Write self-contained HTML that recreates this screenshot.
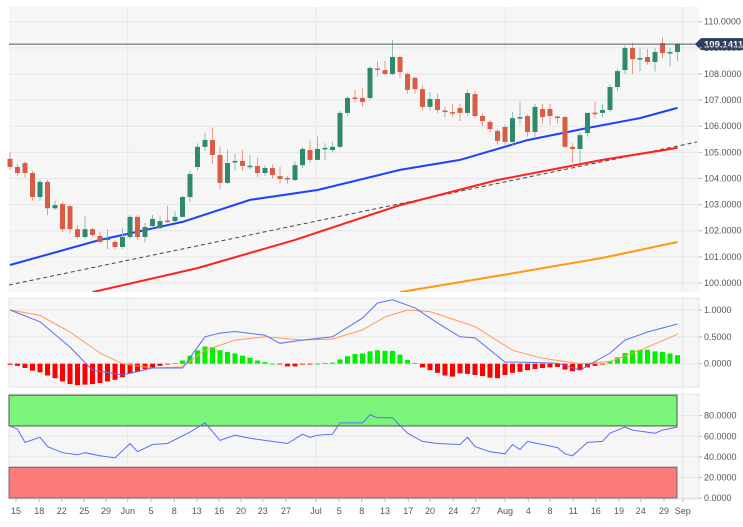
<!DOCTYPE html>
<html><head><meta charset="utf-8"><style>
body{margin:0;background:#fff;width:743px;height:527px;overflow:hidden;font-family:"Liberation Sans",sans-serif}
svg{display:block}
text{font-family:"Liberation Sans",sans-serif;font-size:9px;fill:#555}
</style></head><body>
<svg id="c" width="743" height="527">
<g id="bg"></g><g id="main"></g><g id="macd"></g><g id="rsi"></g><g id="axes"></g>
</svg>
<script>
const opens=[104.75,104.44,104.59,104.21,103.29,103.87,102.86,103.02,102.94,102.06,101.76,102.06,101.80,101.68,101.57,101.38,101.76,102.53,101.76,102.18,102.10,102.39,102.37,102.53,103.29,104.44,105.21,105.47,104.90,103.83,104.65,104.67,104.48,104.48,104.21,104.40,104.09,104.02,103.94,104.51,105.09,104.71,105.15,105.09,105.21,106.51,107.10,107.08,107.08,108.21,108.15,108.00,108.65,108.00,107.85,107.42,106.74,107.04,106.60,106.54,106.70,106.51,107.23,106.39,106.16,105.82,105.97,105.40,106.33,106.39,105.78,106.66,106.66,106.37,106.35,105.21,105.13,105.74,106.52,106.51,106.62,107.50,108.15,108.99,108.59,108.65,108.46,109.18,108.82,108.84];
const closes=[104.44,104.21,104.21,103.29,103.87,102.86,102.98,102.06,102.06,101.76,102.06,101.84,101.57,101.70,101.38,101.76,102.53,101.76,102.14,102.45,102.37,102.37,102.53,103.29,104.17,105.21,105.47,104.90,103.83,104.59,104.67,104.48,104.49,104.21,104.40,104.13,103.98,103.98,104.51,105.13,104.71,105.13,105.17,105.21,106.51,107.08,107.08,106.93,108.23,108.19,108.00,108.65,108.07,107.39,107.42,106.74,107.04,106.62,106.58,106.51,106.51,107.27,106.39,106.20,105.89,105.44,105.40,106.31,106.35,105.78,106.74,106.35,106.39,106.35,105.21,105.13,105.66,106.51,106.50,106.62,107.50,108.11,108.99,108.57,108.61,108.46,108.84,108.80,108.84,109.14];
const highs=[105.0,104.55,104.65,104.3,103.95,103.95,103.15,103.1,103.0,102.2,102.55,102.1,101.95,102.05,101.65,102.1,102.6,102.6,102.3,102.6,102.55,102.95,102.75,103.35,104.3,105.35,105.75,105.95,105.2,105.1,104.95,105.1,104.9,104.8,104.5,104.55,104.45,104.1,104.65,105.2,105.45,105.6,105.35,105.4,106.6,107.15,107.4,107.45,108.3,108.5,108.5,109.3,108.7,108.05,107.9,107.55,107.3,107.25,106.75,106.85,106.85,107.4,107.35,106.5,106.25,105.9,106.05,106.55,106.95,106.45,106.85,106.85,106.85,106.4,106.4,105.35,105.75,105.95,106.95,106.85,107.6,108.2,109.1,109.2,109.0,108.95,109.0,109.4,109.0,109.2];
const lows=[104.35,104.1,104.05,103.15,103.15,102.6,102.8,101.95,101.9,101.7,101.7,101.75,101.5,101.3,101.3,101.3,101.7,101.65,101.55,102.1,102.05,102.3,102.3,102.5,103.1,104.3,105.05,104.55,103.6,103.8,104.3,104.3,104.35,104.05,104.1,104.0,103.8,103.8,103.9,104.4,104.6,104.7,104.7,105.0,105.15,106.4,106.9,106.75,107.0,107.9,107.95,107.95,107.85,107.25,107.25,106.6,106.6,106.5,106.35,106.35,106.2,106.4,106.3,106.0,105.75,105.3,105.3,105.3,106.1,105.6,105.6,106.1,106.05,106.1,105.15,104.6,104.6,105.6,106.3,106.35,106.55,107.35,108.0,108.0,108.1,108.35,108.1,108.6,108.3,108.5];
const blueIdx=[0,12,23,32,41,52,60,69,77,84,89];
const blueVal=[100.69,101.65,102.34,103.18,103.56,104.33,104.71,105.47,105.93,106.31,106.70];
const redIdx=[11,25,38,52,65,79,89];
const redVal=[99.65,100.57,101.65,102.98,103.94,104.71,105.17];
const orgIdx=[52,65,79,89];
const orgVal=[99.65,100.27,100.96,101.57];
const hist=[-0.02,-0.04,-0.08,-0.13,-0.16,-0.22,-0.27,-0.33,-0.38,-0.40,-0.39,-0.38,-0.36,-0.33,-0.30,-0.25,-0.18,-0.15,-0.10,-0.07,-0.04,-0.01,0.01,0.06,0.15,0.25,0.32,0.31,0.25,0.22,0.19,0.15,0.11,0.06,0.03,0.0,-0.01,-0.05,-0.05,-0.01,-0.005,0.0,0.01,0.02,0.08,0.14,0.18,0.19,0.23,0.25,0.24,0.24,0.17,0.07,0.01,-0.07,-0.12,-0.17,-0.22,-0.24,-0.18,-0.19,-0.21,-0.23,-0.26,-0.27,-0.21,-0.17,-0.15,-0.12,-0.10,-0.08,-0.07,-0.06,-0.11,-0.14,-0.12,-0.07,-0.04,-0.01,0.05,0.12,0.20,0.25,0.26,0.26,0.23,0.22,0.19,0.16];
const macdIdx=[0,4,8,11,15,19,23,26,28,30,34,36,39,43,47,49,51,54,57,60,62,66,68,73,76,80,82,85,89];
const macdVal=[1.0,0.78,0.31,-0.12,-0.21,-0.08,-0.08,0.5,0.57,0.6,0.53,0.38,0.44,0.5,0.85,1.13,1.19,1.04,0.76,0.50,0.48,0.03,0.03,0.01,-0.12,0.2,0.44,0.59,0.74];
const sigIdx=[0,4,8,12,15,19,23,26,30,34,39,43,47,50,53,56,62,67,71,76,80,84,89];
const sigVal=[1.0,0.9,0.59,0.2,0,-0.08,-0.06,0.25,0.44,0.5,0.44,0.46,0.63,0.87,1.0,0.97,0.69,0.25,0.1,0,0.04,0.25,0.55];
const rsiIdx=[0,1,2,4,5,7,9,10,12,14,16,17,19,21,24,26,28,30,32,34,37,39,40,41,43,44,47,48,49,51,53,55,57,60,61,62,64,66,67,68,69,71,73,74,75,77,79,80,82,83,86,87,89];
const rsiVal=[70,67,54,59,50,44,42,44,41,39,53,45,52,53,64,73,56,61,58,56,53,62,59,61,62,73,73,81,78,78,63,55,53,52,59,50,45,43,52,47,55,52,49,43,41,54,55,63,69,66,63,66,69];
const priceTicks=[100,101,102,103,104,105,106,107,108,109,110];
const macdTicks=[0,0.5,1.0];
const rsiTicks=[0,20,40,60,80];
const dateLabels=["15","18","22","25","29","Jun","5","8","13","16","20","23","27","Jul","5","8","13","17","20","24","27","Aug","4","8","11","16","19","24","29","Sep"];
const dateIdx=[0.8,3.9,6.9,9.9,12.8,15.7,18.8,21.9,24.9,27.9,30.8,33.7,36.8,40.8,43.9,46.9,50,53.1,56,59.1,62.1,66,69.1,72,75.1,78.1,81.2,84.1,87.2,89.7];
const lastPrice=109.1411;

const NS="http://www.w3.org/2000/svg";
function mk(parent,tag,attrs){const e=document.createElementNS(NS,tag);for(const k in attrs)e.setAttribute(k,attrs[k]);document.getElementById(parent).appendChild(e);return e;}
const X=i=>10+7.5*i;
const YP=p=>21.7+(110-p)*26.13;
const YM=v=>363.7-53.7*v;
const YR=v=>498-1.029*v;

// panels
let e;
e=mk('bg','rect',{x:9,y:7,width:690,height:285,fill:'#f6f6f6'});


e=mk('bg','rect',{x:9,y:298,width:690,height:89,fill:'#f6f6f6',stroke:'#e4e4e8'});


e=mk('bg','rect',{x:9,y:394,width:690,height:105,fill:'#f6f6f6',stroke:'#e4e4e8'});


// gridlines
priceTicks.forEach(t=>{mk('bg','line',{x1:9,x2:699,y1:YP(t),y2:YP(t),stroke:'#e6e6e6'});});
macdTicks.forEach(t=>{mk('bg','line',{x1:9,x2:699,y1:YM(t),y2:YM(t),stroke:'#e6e6e6'});});
rsiTicks.forEach(t=>{mk('bg','line',{x1:9,x2:699,y1:YR(t),y2:YR(t),stroke:'#e6e6e6'});});
[15.7,40.8,66,89.7].forEach(i=>{mk('bg','line',{x1:X(i),x2:X(i),y1:7,y2:292,stroke:'#e8e8e8'});mk('bg','line',{x1:X(i),x2:X(i),y1:298,y2:499,stroke:'#e8e8e8'});});

// trendline dashed
e=mk('main','line',{x1:9,y1:285,x2:697,y2:142,stroke:'#444','stroke-dasharray':'4,3','stroke-width':1});



mk('main','clipPath',{id:'cp'}).appendChild(Object.assign(document.createElementNS(NS,'rect'),{}));
document.querySelector('#cp rect').setAttribute('x',9);document.querySelector('#cp rect').setAttribute('y',7);
document.querySelector('#cp rect').setAttribute('width',690);document.querySelector('#cp rect').setAttribute('height',285);

function poly(g,idx,vals,Y,color,w,name){
  const pts=idx.map((i,k)=>X(i).toFixed(1)+','+Y(vals[k]).toFixed(1)).join(' ');
  const p=mk(g,'polyline',{points:pts,fill:'none',stroke:color,'stroke-width':w,'clip-path':g==='main'?'url(#cp)':''});
  
  
}
poly('main',blueIdx,blueVal,YP,'#2040ff',2,'sma-blue');
poly('main',redIdx,redVal,YP,'#ff2020',2,'sma-red');
poly('main',orgIdx,orgVal,YP,'#ff9a10',2,'sma-orange');

// candles
for(let i=0;i<opens.length;i++){
  const up=closes[i]>=opens[i];
  const col=up?'#2f8a6c':'#d95c45';
  const wick=up?'#8fbfae':'#e89a8c';
  const w=mk('main','line',{x1:X(i),x2:X(i),y1:YP(highs[i]),y2:YP(lows[i]),stroke:wick,'stroke-width':1});
  
  
  const t=YP(Math.max(opens[i],closes[i])),b=YP(Math.min(opens[i],closes[i]));
  const r=mk('main','rect',{x:X(i)-2.5,y:t,width:5,height:Math.max(1.5,b-t),fill:col});
  
  
}
// last price line
e=mk('main','line',{x1:9,x2:699,y1:YP(lastPrice),y2:YP(lastPrice),stroke:'#4c5a6e','stroke-width':1});


e=mk('axes','polygon',{points:`695,${YP(lastPrice)} 701,${YP(lastPrice)-6} 743,${YP(lastPrice)-6} 743,${YP(lastPrice)+6} 701,${YP(lastPrice)+6}`,fill:'#2b3f5e'});


e=mk('axes','text',{x:704,y:YP(lastPrice)+3.5,style:'fill:#fff;font-weight:bold;font-size:9.5px'});
e.textContent=lastPrice.toFixed(4);



// macd
for(let i=0;i<hist.length;i++){
  const v=hist[i];const y0=YM(0),y1=YM(v);
  const r=mk('macd','rect',{x:X(i)-2.5,y:Math.min(y0,y1),width:5,height:Math.max(0.8,Math.abs(y1-y0)),fill:v>=0?'#00f000':'#ff0000'});
  
  
}
poly('macd',sigIdx,sigVal,YM,'#ff9a55',1,'macd-signal-line');
poly('macd',macdIdx,macdVal,YM,'#5a70f0',1,'macd-line');

// rsi bands
e=mk('rsi','rect',{x:9,y:YR(100),width:668,height:YR(70)-YR(100),fill:'#7af57a',stroke:'#333','stroke-width':0.8});


e=mk('rsi','rect',{x:9,y:YR(30),width:668,height:YR(0)-YR(30),fill:'#fb7b7b',stroke:'#555','stroke-width':0.8});


poly('rsi',rsiIdx,rsiVal,YR,'#5a70f0',1,'rsi-line');

// axis labels
priceTicks.forEach(t=>{const tx=mk('axes','text',{x:704,y:YP(t)+3});tx.textContent=t.toFixed(4);


mk('axes','line',{x1:699,x2:702,y1:YP(t),y2:YP(t),stroke:'#bbb'});});
macdTicks.forEach(t=>{const tx=mk('axes','text',{x:704,y:YM(t)+3});tx.textContent=t.toFixed(4);


mk('axes','line',{x1:699,x2:702,y1:YM(t),y2:YM(t),stroke:'#bbb'});});
rsiTicks.forEach(t=>{const tx=mk('axes','text',{x:704,y:YR(t)+3});tx.textContent=t.toFixed(4);


mk('axes','line',{x1:699,x2:702,y1:YR(t),y2:YR(t),stroke:'#bbb'});});
dateLabels.forEach((d,k)=>{const tx=mk('axes','text',{x:X(dateIdx[k]),y:514,'text-anchor':'middle'});tx.textContent=d;


mk('axes','line',{x1:X(dateIdx[k]),x2:X(dateIdx[k]),y1:499,y2:502,stroke:'#bbb'});});
mk('axes','line',{x1:0,x2:743,y1:523,y2:523,stroke:'#eee'});
</script>
</body></html>
